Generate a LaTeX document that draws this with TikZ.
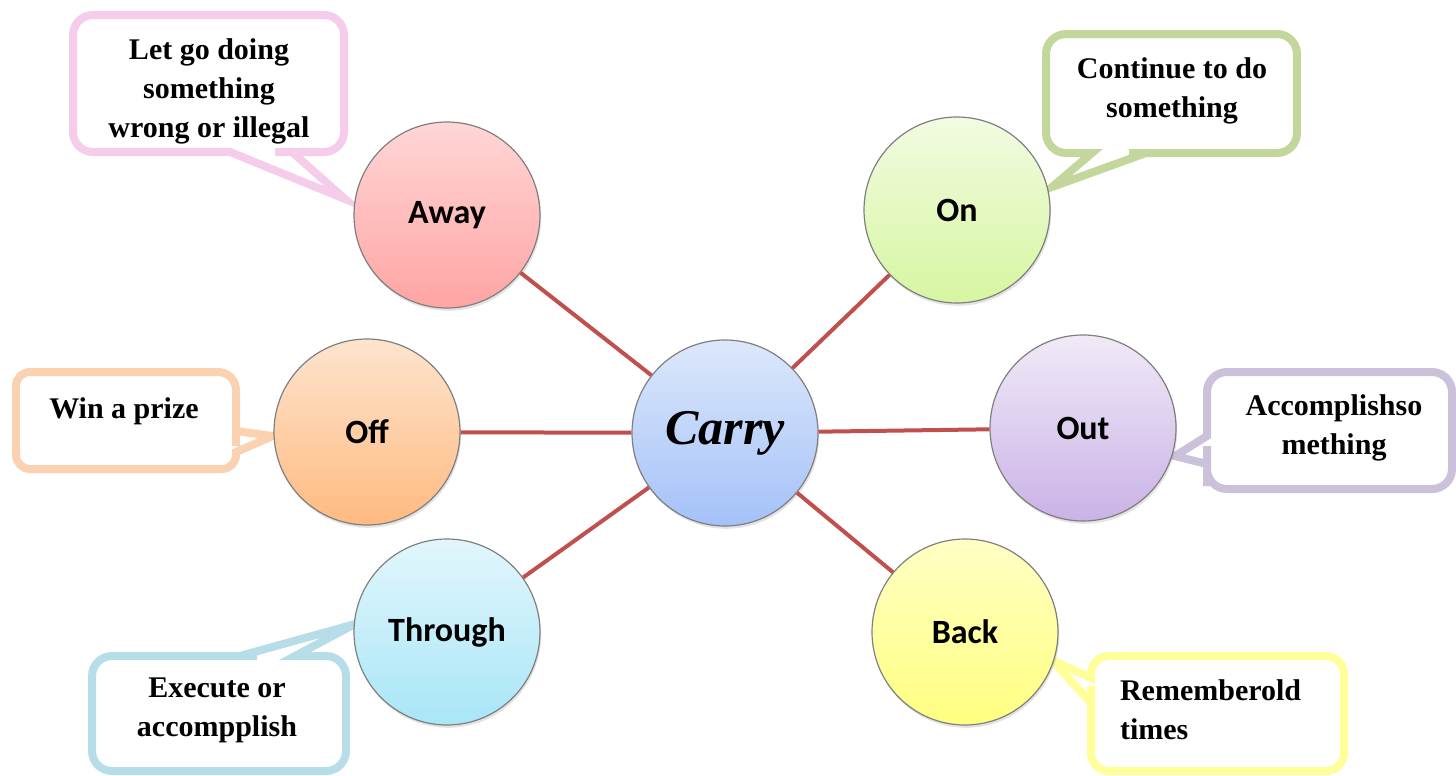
\documentclass[tikz,border=0pt]{standalone}
\usepackage{fontspec}
\setmainfont{Liberation Serif}
\newfontfamily\topicfont{Carlito}
\usetikzlibrary{shadows}
\definecolor{MapLink}{HTML}{C0504D}
\definecolor{MapRim}{HTML}{7F7F7F}
\definecolor{PinkLine}{HTML}{F5CDEB}
\definecolor{GreenLine}{HTML}{C3D69B}
\definecolor{PeachLine}{HTML}{FAD2B2}
\definecolor{LilacLine}{HTML}{CCC1DA}
\definecolor{SkyLine}{HTML}{B7DEE8}
\definecolor{LemonLine}{HTML}{FFFF99}
\tikzset{
  every node/.style={text=black},
  topic/.style={circle, draw=MapRim, line width=0.6pt, minimum size=93pt, inner sep=0pt,
    font=\topicfont\bfseries\fontsize{17}{20}\selectfont,
    drop shadow={opacity=0.22, shadow xshift=0.6pt, shadow yshift=-1.4pt}},
  bubble/.style={fill=white, line width=4pt, rounded corners=10pt},
  note/.style={font=\bfseries\fontsize{15}{19.5}\selectfont, align=center},
  link/.style={draw=MapLink, line width=2pt},
}
\begin{document}
\begin{tikzpicture}[x=0.5pt, y=-0.5pt]
  \useasboundingbox (0,0) rectangle (1456,776);
  % Speech bubbles
  \draw[bubble, draw=PinkLine] (200,15) -- (344,15) -- (344,152) -- (295,152)
    [sharp corners] -- (292,152) -- (345,199) -- (230,152) -- (227,152) [rounded corners=10pt] -- (73,152) -- (73,15) -- cycle;
  \draw[bubble, draw=GreenLine] (1170,34) -- (1297,34) -- (1297,153) -- (1149,153)
    [sharp corners] -- (1146,153) -- (1052,187) -- (1092,153) -- (1089,153) [rounded corners=10pt] -- (1046,153) -- (1046,34) -- cycle;
  \draw[bubble, draw=PeachLine, rounded corners=9pt] (120,372) -- (236,372) -- (236,428)
    [sharp corners] -- (236,431) -- (273,436) -- (236,452) -- (236,454) [rounded corners=7pt] -- (236,469) -- (16,469) -- (16,372) -- cycle;
  \draw[bubble, draw=LilacLine] (1330,372) -- (1452,372) -- (1452,489) -- (1207,489) -- (1207,466)
    [sharp corners] -- (1207,464) -- (1175,456) -- (1207,436) -- (1207,433) [rounded corners=10pt] -- (1207,372) -- cycle;
  \draw[bubble, draw=SkyLine] (92,710) -- (92,656) -- (237,656)
    [sharp corners] -- (240,656) -- (355,624) -- (295,656) -- (298,656) [rounded corners=10pt] -- (346,656) -- (346,771) -- (92,771) -- cycle;
  \draw[bubble, draw=LemonLine] (1091,730) -- (1091,706)
    [sharp corners] -- (1091,703) -- (1052,660) -- (1091,678) -- (1091,676) [rounded corners=9pt] -- (1091,656) -- (1344,656) -- (1344,771) -- (1091,771) -- cycle;
  % Bubble texts
  \node[note] (tAway) at (209,91) {Let go doing\\something\\wrong or illegal};
  \node[note] (tOn) at (1172,91) {Continue to do\\something};
  \node[note] (tOff) at (124,411) {Win a prize};
  \node[note] (tOut) at (1334,428) {Accomplishso\\ mething};
  \node[note] (tThrough) at (217,710) {Execute or\\accompplish};
  \node[note, align=left, anchor=west] (tBack) at (1113,710) {Rememberold\\times};
  % Topic circles
  \node[topic, top color={rgb,255:red,220;green,232;blue,251}, bottom color={rgb,255:red,164;green,193;blue,248},
    font=\bfseries\itshape\fontsize{25}{28}\selectfont] (carry) at (725,433) {Carry};
  \node[topic, top color={rgb,255:red,255;green,214;blue,214}, bottom color={rgb,255:red,255;green,164;blue,164}] (away) at (447,215) {Away};
  \node[topic, top color={rgb,255:red,242;green,251;blue,226}, bottom color={rgb,255:red,214;green,246;blue,160}] (on) at (957,210) {On};
  \node[topic, top color={rgb,255:red,253;green,228;blue,206}, bottom color={rgb,255:red,255;green,186;blue,128}] (off) at (367,432) {Off};
  \node[topic, top color={rgb,255:red,240;green,234;blue,247}, bottom color={rgb,255:red,202;green,178;blue,230}] (out) at (1083,428) {Out};
  \node[topic, top color={rgb,255:red,226;green,246;blue,252}, bottom color={rgb,255:red,168;green,230;blue,247}] (through) at (447,632) {Through};
  \node[topic, top color={rgb,255:red,255;green,255;blue,196}, bottom color={rgb,255:red,255;green,255;blue,128}] (back) at (965,632) {Back};
  % Links from the centre
  \foreach \t in {away, on, off, out, through, back}
    \draw[link] (carry) -- (\t);
\end{tikzpicture}
\end{document}
